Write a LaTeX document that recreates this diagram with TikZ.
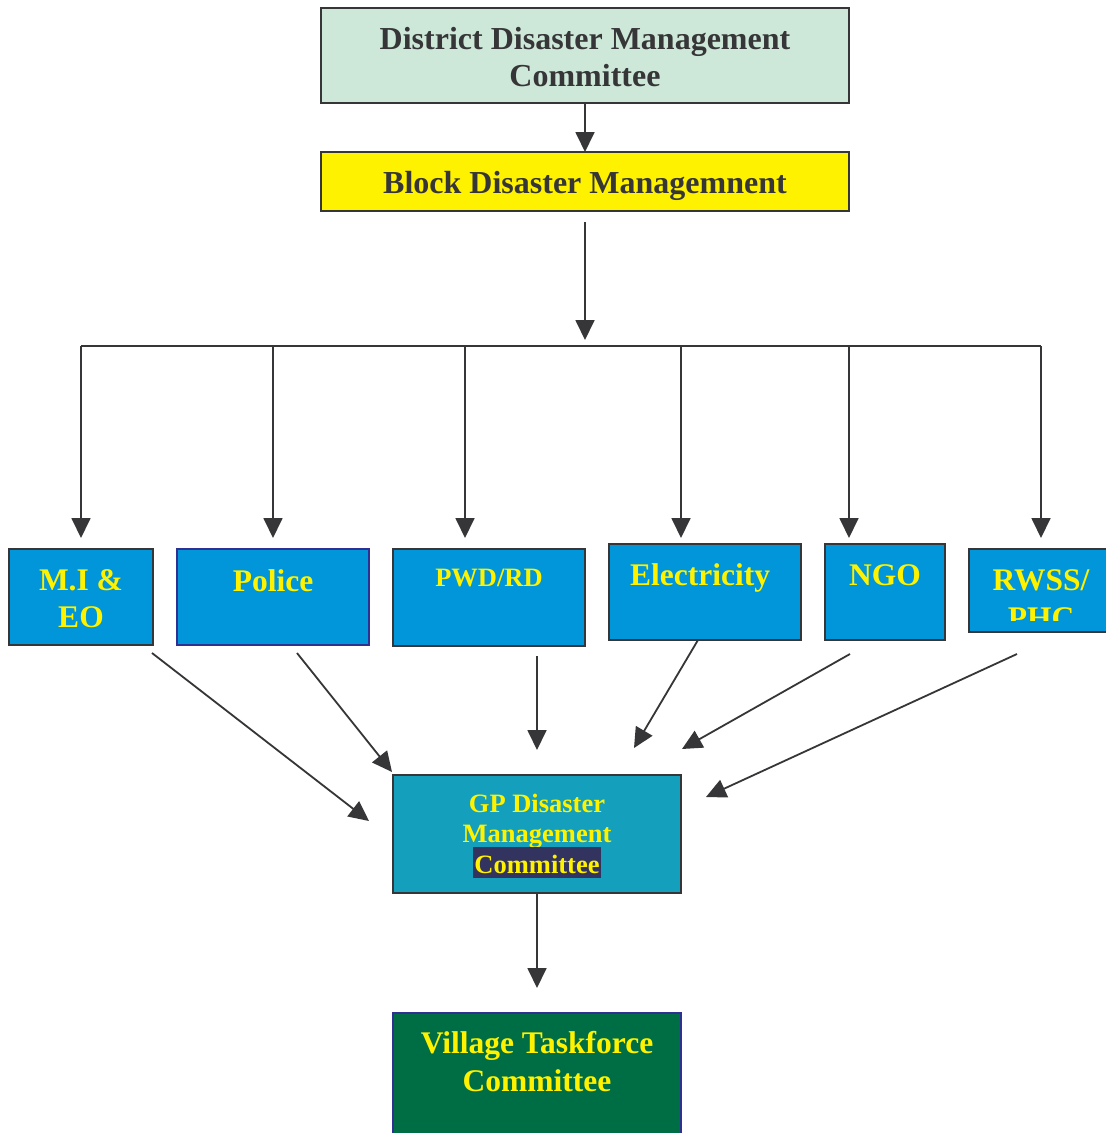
\documentclass[tikz,border=0pt]{standalone}
\usepackage{fontspec}
\setmainfont{Liberation Serif}
\usetikzlibrary{arrows.meta}
\definecolor{lineC}{HTML}{363638}
\definecolor{navyB}{HTML}{2E3192}
\definecolor{distF}{HTML}{CDE8D8}
\definecolor{blockF}{HTML}{FFF200}
\definecolor{blueF}{HTML}{0096D9}
\definecolor{gpF}{HTML}{149FBD}
\definecolor{villF}{HTML}{006E44}
\definecolor{txtY}{HTML}{FFF200}
\definecolor{txtD}{HTML}{363638}
\definecolor{hlF}{HTML}{33335F}
\begin{document}
\begin{tikzpicture}[x=1pt,y=-1pt,
  box/.style={draw=lineC, line width=2pt, inner sep=0pt, outer sep=0pt, rectangle},
  conn/.style={draw=lineC, line width=1.8pt, -{Triangle[length=20pt,width=19pt]}},
  plain/.style={draw=lineC, line width=1.8pt},
  bigD/.style={anchor=base, inner sep=0pt, text=txtD, font=\fontsize{32}{38}\selectfont\bfseries},
  bigY/.style={anchor=base, inner sep=0pt, text=txtY, font=\fontsize{31.5}{37}\selectfont\bfseries},
  midY/.style={anchor=base, inner sep=0pt, text=txtY, font=\fontsize{26.5}{31}\selectfont\bfseries}]
\useasboundingbox (0,0) rectangle (1106,1133);
\fill[white] (0,0) rectangle (1106,1133);

% boxes
\node[box, fill=distF, minimum width=528pt, minimum height=95pt] (dist) at (585,55.5) {};
\node[box, fill=blockF, minimum width=528pt, minimum height=59pt] (block) at (585,181.5) {};
\node[box, fill=blueF, minimum width=144pt, minimum height=96pt] (mi) at (81,597) {};
\node[box, fill=blueF, draw=navyB, minimum width=192pt, minimum height=96pt] (police) at (273,597) {};
\node[box, fill=blueF, minimum width=192pt, minimum height=97pt] (pwd) at (489,597.5) {};
\node[box, fill=blueF, minimum width=192pt, minimum height=96pt] (elec) at (705,592) {};
\node[box, fill=blueF, minimum width=120pt, minimum height=96pt] (ngo) at (885,592) {};
\node[box, fill=blueF, minimum width=146pt, minimum height=83pt] (rwss) at (1042,590.5) {};
\node[box, fill=gpF, minimum width=288pt, minimum height=118pt] (gp) at (537,834) {};
\node[box, fill=villF, draw=navyB, minimum width=288pt, minimum height=127pt] (vill) at (537,1076.5) {};

% texts
\node[bigD] (dist-t1) at (585,49) {District Disaster Management};
\node[bigD] (dist-t2) at (585,86) {Committee};
\node[bigD] (block-t) at (585,193) {Block Disaster Managemnent};
\node[bigY] (mi-t1) at (81,590) {M.I \&};
\node[bigY] (mi-t2) at (81,627) {EO};
\node[bigY] (police-t) at (273,591) {Police};
\node[midY] (pwd-t) at (489,586) {PWD/RD};
\node[bigY] (elec-t) at (700,585) {Electricity};
\node[bigY] (ngo-t) at (885,585) {NGO};
\node[bigY] (rwss-t1) at (1041,590) {RWSS/};
\begin{scope}
  \clip (969,549) rectangle (1106,620);
  \node[bigY] (rwss-t2) at (1041,628) {PHC};
\end{scope}
\node[midY] (gp-t1) at (537,812) {GP Disaster};
\node[midY] (gp-t2) at (537,842) {Management};
\node[midY, fill=hlF, inner xsep=1.7pt, text height=26pt, text depth=5pt] (gp-t3) at (537,873) {Committee};
\node[bigY] (vill-t1) at (537,1053) {Village Taskforce};
\node[bigY] (vill-t2) at (537,1091) {Committee};

% coordinates
\coordinate (bs) at (585,222);
\coordinate (bt) at (585,340);
\coordinate (busL) at (81,346);
\coordinate (busR) at (1041,346);
\foreach \n/\x in {1/81,2/273,3/465,4/681,5/849,6/1041}{
  \coordinate (top\n) at (\x,346);
  \coordinate (tip\n) at (\x,538);
}
\coordinate (s1) at (152,653);  \coordinate (e1) at (369,821);
\coordinate (s2) at (297,653);  \coordinate (e2) at (392,772);
\coordinate (s3) at (537,656);  \coordinate (e3) at (537,750);
\coordinate (s4) at (698,640);  \coordinate (e4) at (634,748);
\coordinate (s5) at (850,654);  \coordinate (e5) at (682,749);
\coordinate (s6) at (1017,654); \coordinate (e6) at (706,797);
\coordinate (gv) at (537,988);

% connectors
\draw[conn] (dist.south) -- (block.north);
\draw[conn] (bs) -- (bt);
\draw[plain] (busL) -- (busR);
\foreach \n in {1,...,6}{\draw[conn] (top\n) -- (tip\n);}
\foreach \n in {1,...,6}{\draw[conn] (s\n) -- (e\n);}
\draw[conn] (gp.south) -- (gv);
\end{tikzpicture}
\end{document}
